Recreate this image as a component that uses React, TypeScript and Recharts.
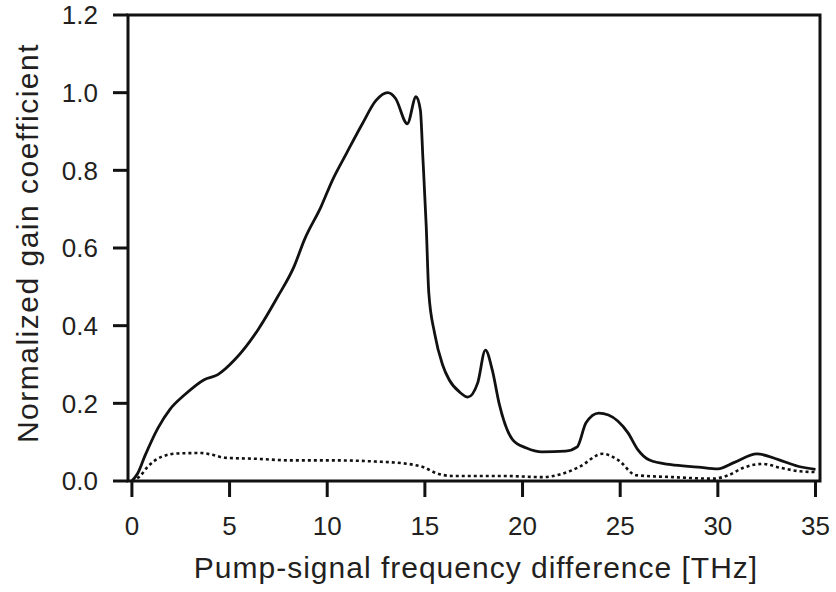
import { LineChart, Line, XAxis, YAxis, Label } from 'recharts';

// parallel polarization (solid)
const parFreq = [
  0, 0.3, 0.66, 1.34, 1.94, 2.7, 3.7, 4.4, 5.26, 6.45, 7.47, 8.3, 8.83, 9.68, 10.27, 11.0, 11.8, 12.5,
  13.1, 13.5, 14.1, 14.55, 14.77, 14.9, 15.07, 15.2, 15.5, 15.9, 16.25, 16.8, 17.2, 17.7, 18.1, 18.45,
  18.8, 19.5, 20.2, 21.0, 22.2, 22.8, 23.25, 23.9, 24.4, 25.4, 25.9, 26.5, 27.6, 29.0, 30.0, 30.85,
  32.0, 33.1, 34.1, 35.0,
];
const parGain = [
  0, 0.02, 0.064, 0.137, 0.184, 0.222, 0.261, 0.274, 0.312, 0.389, 0.475, 0.552, 0.621, 0.706, 0.775,
  0.845, 0.92, 0.98, 1.0, 0.985, 0.92, 0.99, 0.955, 0.83, 0.655, 0.485, 0.38, 0.3, 0.26, 0.228, 0.216,
  0.252, 0.337, 0.286, 0.2, 0.106, 0.085, 0.075, 0.077, 0.088, 0.15, 0.175, 0.17, 0.124, 0.081, 0.054,
  0.042, 0.036, 0.031, 0.048, 0.07, 0.055, 0.038, 0.03,
];

// orthogonal polarization (dashed)
const perpFreq = [
  0, 0.4, 0.83, 1.51, 2.36, 3.55, 4.07, 4.74, 6.45, 8.15, 10.7, 12.5, 13.8, 14.4, 14.9, 15.6, 16.4,
  19.0, 21.0, 22.0, 22.9, 24.1, 24.9, 25.8, 27.7, 29.75, 30.5, 31.3, 32.3, 33.2, 34.2, 35.0,
];
const perpGain = [
  0, 0.012, 0.038, 0.062, 0.071, 0.072, 0.068, 0.06, 0.057, 0.053, 0.053, 0.05, 0.046, 0.042, 0.036,
  0.02, 0.013, 0.013, 0.01, 0.018, 0.036, 0.07, 0.054, 0.015, 0.01, 0.006, 0.014, 0.034, 0.044, 0.034,
  0.025, 0.023,
];

const xTicks = [0, 5, 10, 15, 20, 25, 30, 35];
const yTicks = [0, 0.2, 0.4, 0.6, 0.8, 1.0, 1.2];
const xMin = -0.2;
const xMax = 35.23;
const yMax = 1.2;

const parData = parFreq.map((x, i) => ({ x, y: parGain[i] }));
const perpData = perpFreq.map((x, i) => ({ x, y: perpGain[i] }));

const FONT = '"Liberation Sans", Arial, Helvetica, sans-serif';
const INK = '#111';
const TEXT = '#231f20';
const MARGIN = { top: 15, right: 16, bottom: 10, left: 0 };
const X_TICK_LEN = 16;
const X_TICK_GAP = 20;
const Y_TICK_LEN = 15;
const Y_TICK_GAP = 15;

const XTick = ({ x, y, payload }: any) => (
  <g>
    <line
      x1={x}
      x2={x}
      y1={y - X_TICK_LEN - X_TICK_GAP}
      y2={y - X_TICK_GAP}
      stroke={INK}
      strokeWidth={3}
    />
    <text x={x} y={y} dy="0.71em" textAnchor="middle" fill={TEXT} fontSize={26} fontFamily={FONT}>
      {payload.value}
    </text>
  </g>
);

const YTick = ({ x, y, payload }: any) => (
  <g>
    <line
      x1={x + Y_TICK_GAP}
      x2={x + Y_TICK_GAP + Y_TICK_LEN}
      y1={y}
      y2={y}
      stroke={INK}
      strokeWidth={3}
    />
    <text x={x} y={y} dy="0.355em" textAnchor="end" fill={TEXT} fontSize={26} fontFamily={FONT}>
      {Number(payload.value).toFixed(1)}
    </text>
  </g>
);

// x title, plus the box around the plot area
const XTitle = ({ viewBox }: any) => {
  const left = viewBox.x;
  const right = viewBox.x + viewBox.width;
  const bottom = viewBox.y;
  const top = MARGIN.top;
  return (
    <g>
      <path
        d={`M${left},${top} L${right},${top} L${right},${bottom} L${left},${bottom} Z`}
        fill="none"
        stroke={INK}
        strokeWidth={3}
      />
      <text
        x={left + viewBox.width / 2 + 2}
        y={578}
        textAnchor="middle"
        fill={TEXT}
        fontSize={30}
        letterSpacing={1}
        fontFamily={FONT}
      >
        Pump-signal frequency difference [THz]
      </text>
    </g>
  );
};

const YTitle = ({ viewBox }: any) => (
  <text
    transform={`translate(38, ${viewBox.y + viewBox.height / 2 - 5}) rotate(-90)`}
    textAnchor="middle"
    fill={TEXT}
    fontSize={30}
    letterSpacing={1.5}
    fontFamily={FONT}
  >
    Normalized gain coefficient
  </text>
);

export default function App() {
  return (
    <div style={{ position: 'absolute', left: 0, top: 0, background: '#fff' }}>
      <LineChart width={836} height={592} margin={MARGIN}>
        <XAxis
          type="number"
          dataKey="x"
          domain={[xMin, xMax]}
          allowDataOverflow
          ticks={xTicks}
          height={101}
          tickSize={X_TICK_LEN}
          tickMargin={X_TICK_GAP}
          axisLine={false}
          tickLine={false}
          tick={XTick}
        >
          <Label content={XTitle} />
        </XAxis>
        <YAxis
          type="number"
          domain={[0, yMax]}
          allowDataOverflow
          ticks={yTicks}
          width={128}
          tickSize={Y_TICK_LEN}
          tickMargin={Y_TICK_GAP}
          axisLine={false}
          tickLine={false}
          tick={YTick}
        >
          <Label content={YTitle} />
        </YAxis>
        <Line
          data={perpData}
          dataKey="y"
          type="monotone"
          stroke={INK}
          strokeWidth={2.6}
          strokeDasharray="3 3"
          dot={false}
          isAnimationActive={false}
        />
        <Line
          data={parData}
          dataKey="y"
          type="monotone"
          stroke={INK}
          strokeWidth={2.8}
          dot={false}
          isAnimationActive={false}
        />
      </LineChart>
    </div>
  );
}
